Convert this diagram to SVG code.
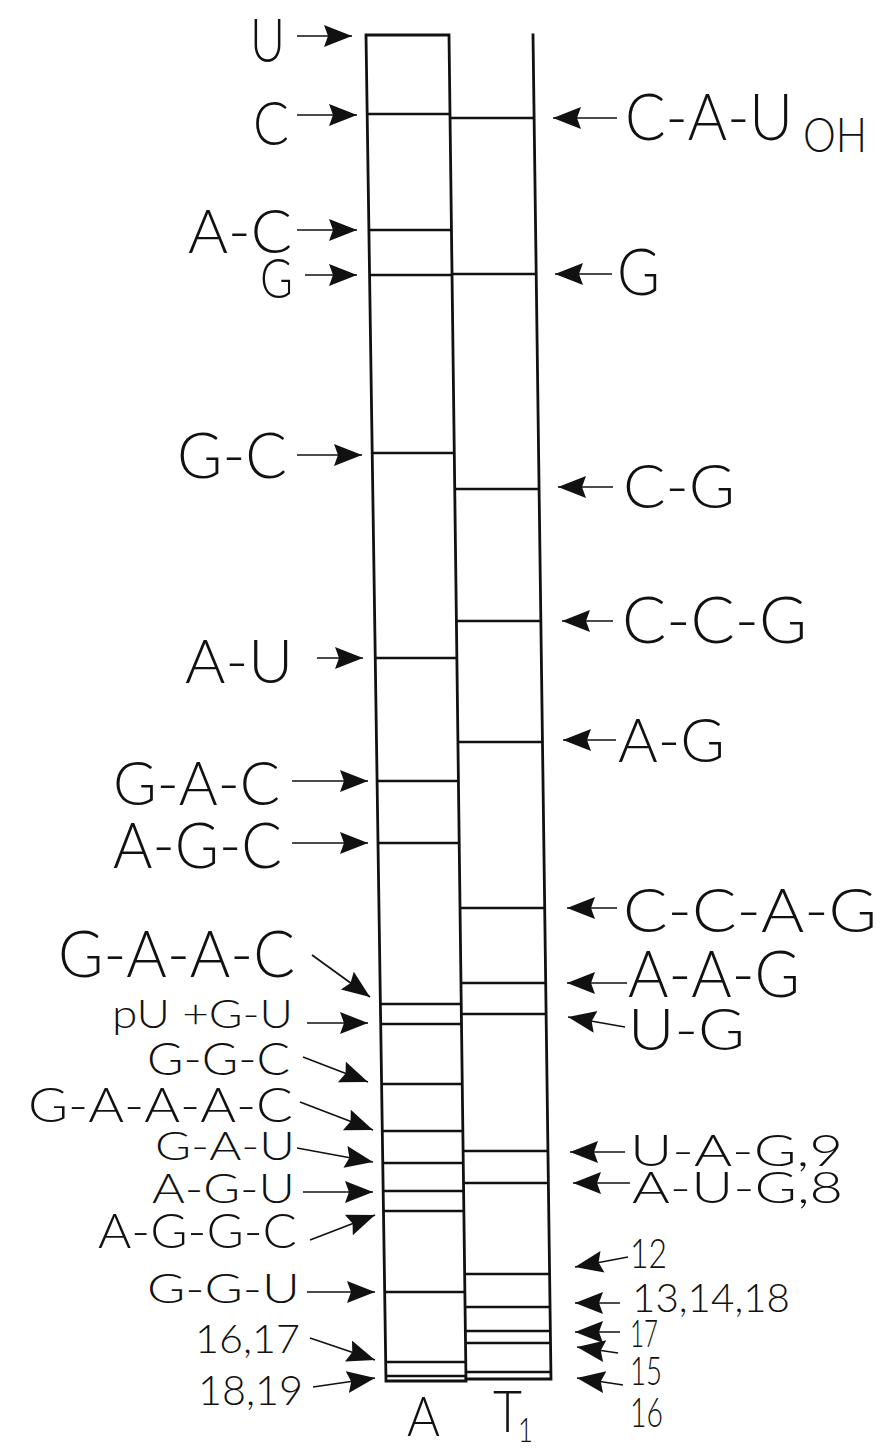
<svg xmlns="http://www.w3.org/2000/svg" width="882" height="1451" viewBox="0 0 882 1451">
<style>
.lane{fill:none;stroke:#111;stroke-width:2.8;stroke-linecap:square}
.band{stroke:#111;stroke-width:2.6}
.lbl{font-family:Lato,"Liberation Sans",sans-serif;font-weight:300;fill:#111}
.arr{stroke:#111;stroke-width:1.7;fill:none;marker-end:url(#ah)}
</style>
<defs>
<marker id="ah" markerUnits="userSpaceOnUse" markerWidth="32" markerHeight="24" refX="28" refY="11" orient="auto">
<path d="M0,0 L28,11 L0,22 L4,11 Z" fill="#111"/>
</marker>
</defs>
<rect width="882" height="1451" fill="#fff"/>

<g id="lane-A">
<path class="lane" d="M366,35 L449,35 M366,35 L386,1381 L466,1381 M449,35 L466,1381"/>
<g class="bands">
<line class="band" x1="367" y1="114" x2="450" y2="114"/>
<line class="band" x1="369" y1="230" x2="451" y2="230"/>
<line class="band" x1="370" y1="275" x2="452" y2="275"/>
<line class="band" x1="372" y1="453" x2="454" y2="453"/>
<line class="band" x1="375" y1="658" x2="457" y2="658"/>
<line class="band" x1="377" y1="781" x2="458" y2="781"/>
<line class="band" x1="378" y1="843" x2="459" y2="843"/>
<line class="band" x1="380" y1="1004" x2="461" y2="1004"/>
<line class="band" x1="381" y1="1024" x2="461" y2="1024"/>
<line class="band" x1="382" y1="1084" x2="462" y2="1084"/>
<line class="band" x1="382" y1="1131" x2="463" y2="1131"/>
<line class="band" x1="383" y1="1163" x2="463" y2="1163"/>
<line class="band" x1="383" y1="1191" x2="464" y2="1191"/>
<line class="band" x1="383" y1="1211" x2="464" y2="1211"/>
<line class="band" x1="385" y1="1292" x2="465" y2="1292"/>
<line class="band" x1="386" y1="1362" x2="466" y2="1362"/>
<line class="band" x1="386" y1="1376" x2="466" y2="1376"/>
</g>
<text class="lbl" x="407" y="1436" font-size="56" textLength="33" lengthAdjust="spacingAndGlyphs">A</text>
</g>

<g id="lane-T1">
<path class="lane" d="M533,35 L551,1379 L466,1379"/>
<g class="bands">
<line class="band" x1="450" y1="118" x2="534" y2="118"/>
<line class="band" x1="452" y1="274" x2="536" y2="274"/>
<line class="band" x1="455" y1="489" x2="539" y2="489"/>
<line class="band" x1="456" y1="621" x2="541" y2="621"/>
<line class="band" x1="458" y1="742" x2="542" y2="742"/>
<line class="band" x1="460" y1="908" x2="545" y2="908"/>
<line class="band" x1="461" y1="983" x2="546" y2="983"/>
<line class="band" x1="461" y1="1014" x2="546" y2="1014"/>
<line class="band" x1="463" y1="1151" x2="548" y2="1151"/>
<line class="band" x1="463" y1="1183" x2="548" y2="1183"/>
<line class="band" x1="465" y1="1274" x2="550" y2="1274"/>
<line class="band" x1="465" y1="1307" x2="550" y2="1307"/>
<line class="band" x1="465" y1="1331" x2="550" y2="1331"/>
<line class="band" x1="466" y1="1343" x2="551" y2="1343"/>
<line class="band" x1="466" y1="1372" x2="551" y2="1372"/>
</g>
<text class="lbl" x="493" y="1432" font-size="58"><tspan textLength="29" lengthAdjust="spacingAndGlyphs">T</tspan><tspan x="518" y="1442" font-size="34" textLength="15" lengthAdjust="spacingAndGlyphs">1</tspan></text>
</g>

<g id="labels-left">
<g id="l-U"><text class="lbl" x="250" y="62" font-size="62" textLength="35" lengthAdjust="spacingAndGlyphs">U</text></g>
<g id="l-C"><text class="lbl" x="253" y="145" font-size="62" textLength="36" lengthAdjust="spacingAndGlyphs">C</text></g>
<g id="l-AC"><text class="lbl" x="188" y="253" font-size="62" textLength="104" lengthAdjust="spacingAndGlyphs">A-C</text></g>
<g id="l-G"><text class="lbl" x="260" y="298" font-size="56" textLength="33" lengthAdjust="spacingAndGlyphs">G</text></g>
<g id="l-GC"><text class="lbl" x="177" y="478" font-size="64" textLength="110" lengthAdjust="spacingAndGlyphs">G-C</text></g>
<g id="l-AU"><text class="lbl" x="185" y="683" font-size="62" textLength="108" lengthAdjust="spacingAndGlyphs">A-U</text></g>
<g id="l-GAC"><text class="lbl" x="113" y="805" font-size="62" textLength="167" lengthAdjust="spacingAndGlyphs">G-A-C</text></g>
<g id="l-AGC"><text class="lbl" x="113" y="868" font-size="64" textLength="169" lengthAdjust="spacingAndGlyphs">A-G-C</text></g>
<g id="l-GAAC"><text class="lbl" x="58" y="977" font-size="65" textLength="237" lengthAdjust="spacingAndGlyphs">G-A-A-C</text></g>
<g id="l-pUGU"><text class="lbl" x="112" y="1028" font-size="40" textLength="181" lengthAdjust="spacingAndGlyphs">pU +G-U</text></g>
<g id="l-GGC"><text class="lbl" x="147" y="1075" font-size="45" textLength="143" lengthAdjust="spacingAndGlyphs">G-G-C</text></g>
<g id="l-GAAAC"><text class="lbl" x="28" y="1122" font-size="47" textLength="265" lengthAdjust="spacingAndGlyphs">G-A-A-A-C</text></g>
<g id="l-GAU"><text class="lbl" x="155" y="1160" font-size="40" textLength="140" lengthAdjust="spacingAndGlyphs">G-A-U</text></g>
<g id="l-AGU"><text class="lbl" x="152" y="1203" font-size="42" textLength="143" lengthAdjust="spacingAndGlyphs">A-G-U</text></g>
<g id="l-AGGC"><text class="lbl" x="98" y="1248" font-size="47" textLength="199" lengthAdjust="spacingAndGlyphs">A-G-G-C</text></g>
<g id="l-GGU"><text class="lbl" x="147" y="1303" font-size="42" textLength="153" lengthAdjust="spacingAndGlyphs">G-G-U</text></g>
<g id="l-1617"><text class="lbl" x="195" y="1353" font-size="40" textLength="105" lengthAdjust="spacingAndGlyphs">16,17</text></g>
<g id="l-1819"><text class="lbl" x="198" y="1405" font-size="42" textLength="105" lengthAdjust="spacingAndGlyphs">18,19</text></g>
</g>

<g id="labels-right">
<g id="r-CAUOH"><text class="lbl" x="625" y="140" font-size="65"><tspan textLength="168" lengthAdjust="spacingAndGlyphs">C-A-U</tspan><tspan x="803" y="152" font-size="47" textLength="64" lengthAdjust="spacingAndGlyphs">OH</tspan></text></g>
<g id="r-G"><text class="lbl" x="617" y="295" font-size="65" textLength="43" lengthAdjust="spacingAndGlyphs">G</text></g>
<g id="r-CG"><text class="lbl" x="623" y="508" font-size="62" textLength="112" lengthAdjust="spacingAndGlyphs">C-G</text></g>
<g id="r-CCG"><text class="lbl" x="622" y="643" font-size="66" textLength="185" lengthAdjust="spacingAndGlyphs">C-C-G</text></g>
<g id="r-AG"><text class="lbl" x="618" y="762" font-size="61" textLength="107" lengthAdjust="spacingAndGlyphs">A-G</text></g>
<g id="r-CCAG"><text class="lbl" x="623" y="932" font-size="62" textLength="254" lengthAdjust="spacingAndGlyphs">C-C-A-G</text></g>
<g id="r-AAG"><text class="lbl" x="628" y="997" font-size="65" textLength="172" lengthAdjust="spacingAndGlyphs">A-A-G</text></g>
<g id="r-UG"><text class="lbl" x="628" y="1050" font-size="58" textLength="117" lengthAdjust="spacingAndGlyphs">U-G</text></g>
<g id="r-UAG9"><text class="lbl" x="630" y="1166" font-size="43" textLength="213" lengthAdjust="spacingAndGlyphs">U-A-G,9</text></g>
<g id="r-AUG8"><text class="lbl" x="632" y="1203" font-size="43" textLength="211" lengthAdjust="spacingAndGlyphs">A-U-G,8</text></g>
<g id="r-12"><text class="lbl" x="630" y="1268" font-size="42" textLength="37" lengthAdjust="spacingAndGlyphs">12</text></g>
<g id="r-131418"><text class="lbl" x="632" y="1312" font-size="40" textLength="158" lengthAdjust="spacingAndGlyphs">13,14,18</text></g>
<g id="r-17"><text class="lbl" x="630" y="1347" font-size="38" textLength="28" lengthAdjust="spacingAndGlyphs">17</text></g>
<g id="r-15"><text class="lbl" x="630" y="1385" font-size="39" textLength="32" lengthAdjust="spacingAndGlyphs">15</text></g>
<g id="r-16"><text class="lbl" x="630" y="1427" font-size="42" textLength="33" lengthAdjust="spacingAndGlyphs">16</text></g>
</g>

<g id="connectors">
<line class="arr" x1="297" y1="36" x2="352" y2="36"/>
<line class="arr" x1="297" y1="115" x2="357" y2="115"/>
<line class="arr" x1="297" y1="230" x2="357" y2="230"/>
<line class="arr" x1="305" y1="275" x2="357" y2="275"/>
<line class="arr" x1="297" y1="455" x2="362" y2="455"/>
<line class="arr" x1="317" y1="658" x2="363" y2="658"/>
<line class="arr" x1="292" y1="781" x2="368" y2="781"/>
<line class="arr" x1="292" y1="843" x2="368" y2="843"/>
<line class="arr" x1="312" y1="955" x2="370" y2="997"/>
<line class="arr" x1="307" y1="1023" x2="368" y2="1023"/>
<line class="arr" x1="303" y1="1057" x2="368" y2="1082"/>
<line class="arr" x1="300" y1="1102" x2="373" y2="1130"/>
<line class="arr" x1="297" y1="1148" x2="373" y2="1162"/>
<line class="arr" x1="303" y1="1192" x2="373" y2="1192"/>
<line class="arr" x1="310" y1="1240" x2="375" y2="1215"/>
<line class="arr" x1="307" y1="1292" x2="375" y2="1292"/>
<line class="arr" x1="310" y1="1338" x2="375" y2="1360"/>
<line class="arr" x1="313" y1="1387" x2="375" y2="1378"/>
<line class="arr" x1="617" y1="118" x2="553" y2="118"/>
<line class="arr" x1="612" y1="274" x2="555" y2="274"/>
<line class="arr" x1="613" y1="487" x2="558" y2="487"/>
<line class="arr" x1="613" y1="621" x2="562" y2="621"/>
<line class="arr" x1="616" y1="740" x2="563" y2="740"/>
<line class="arr" x1="617" y1="908" x2="567" y2="908"/>
<line class="arr" x1="627" y1="983" x2="567" y2="983"/>
<line class="arr" x1="625" y1="1027" x2="568" y2="1017"/>
<line class="arr" x1="625" y1="1152" x2="570" y2="1152"/>
<line class="arr" x1="630" y1="1183" x2="573" y2="1183"/>
<line class="arr" x1="628" y1="1257" x2="575" y2="1267"/>
<line class="arr" x1="620" y1="1303" x2="575" y2="1303"/>
<line class="arr" x1="620" y1="1332" x2="575" y2="1332"/>
<line class="arr" x1="618" y1="1353" x2="577" y2="1347"/>
<line class="arr" x1="623" y1="1385" x2="577" y2="1378"/>
</g>
</svg>
